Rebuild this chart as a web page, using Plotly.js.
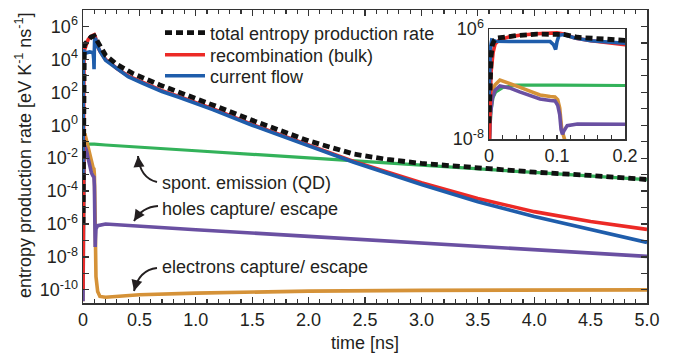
<!DOCTYPE html>
<html>
<head>
<meta charset="utf-8">
<script src="https://cdn.plot.ly/plotly-3.0.1.min.js"></script>
<style>html,body{margin:0;padding:0;background:#fff;}#chart{width:673px;height:358px;}</style>
</head>
<body>
<div id="chart"></div>
<script>
// time values [ns] and log10 of the entropy production rate [eV K^-1 ns^-1]
var tTotal = [0, 0.001, 0.002, 0.003, 0.005, 0.008, 0.012, 0.02, 0.04, 0.07, 0.1, 0.11, 0.13, 0.16, 0.2, 0.3, 0.44, 0.68, 1.0, 1.2, 1.5, 2.0, 2.4, 2.7, 3.0, 3.5, 4.0, 4.5, 5.0];
var logTotal = [-6, -1.5, 0.5, 2.5, 4.0, 4.6, 4.85, 4.95, 5.15, 5.35, 5.42, 5.3, 4.95, 4.6, 4.25, 3.7, 3.15, 2.45, 1.65, 1.1, 0.3, -0.95, -1.75, -2.08, -2.32, -2.6, -2.85, -3.05, -3.3];

var tRecomb = [0, 0.001, 0.003, 0.006, 0.009, 0.015, 0.03, 0.045, 0.07, 0.1, 0.11, 0.126, 0.15, 0.2, 0.24, 0.3, 0.4, 0.53, 0.7, 0.85, 1.0, 1.15, 1.5, 2.0, 2.4, 3.0, 3.5, 4.0, 4.5, 5.0];
var logRecomb = [-10, -6, 0.5, 3.0, 4.1, 4.6, 5.0, 5.2, 5.4, 5.5, 5.35, 4.85, 4.5, 4.0, 3.8, 3.45, 3.0, 2.6, 2.1, 1.75, 1.4, 1.0, 0.05, -1.2, -2.2, -3.5, -4.45, -5.25, -5.85, -6.33];

var tCurrent = [0, 0.001, 0.002, 0.004, 0.01, 0.03, 0.06, 0.09, 0.095, 0.098, 0.1, 0.103, 0.11, 0.126, 0.15, 0.2, 0.24, 0.3, 0.4, 0.53, 0.7, 0.85, 1.0, 1.15, 1.5, 2.0, 2.4, 3.0, 3.5, 4.0, 4.5, 5.0];
var logCurrent = [-3, 1.5, 3.5, 4.6, 4.45, 4.4, 4.45, 4.4, 4.0, 3.4, 4.4, 5.2, 5.3, 4.85, 4.5, 3.95, 3.75, 3.4, 2.95, 2.55, 2.05, 1.7, 1.35, 0.95, 0.0, -1.25, -2.25, -3.6, -4.65, -5.55, -6.35, -7.12];

var tSpont = [0, 0.003, 0.006, 0.01, 0.02, 0.04, 0.1, 0.2, 1, 2, 3, 4, 5];
var logSpont = [-9, -4.3, -2.7, -2.0, -1.45, -1.15, -1.15, -1.2, -1.55, -1.97, -2.43, -2.87, -3.3];

var tElec = [0, 0.002, 0.005, 0.009, 0.016, 0.03, 0.045, 0.06, 0.075, 0.09, 0.097, 0.101, 0.104, 0.107, 0.11, 0.115, 0.13, 0.15, 0.2, 0.3, 0.5, 1, 1.5, 2, 3, 4, 5];
var logElec = [-10.7, -4, -1.8, -1.1, -0.5, -0.9, -1.4, -1.9, -2.4, -2.6, -2.65, -3.0, -4.05, -6.8, -8, -9.2, -10.1, -10.4, -10.45, -10.4, -10.3, -10.2, -10.12, -10.08, -10.03, -10.0, -10.0];

var tHoles = [0, 0.002, 0.005, 0.009, 0.016, 0.03, 0.045, 0.06, 0.075, 0.09, 0.097, 0.101, 0.104, 0.106, 0.108, 0.11, 0.115, 0.13, 0.2, 0.5, 1, 2, 3, 4, 5];
var logHoles = [-10.7, -5, -2.8, -1.8, -1.25, -1.5, -2.0, -2.45, -2.9, -3.1, -3.15, -3.7, -4.9, -6.8, -7.4, -7.0, -6.3, -6.1, -6.0, -6.15, -6.35, -6.75, -7.15, -7.55, -7.97];

var xTickVals = [0, 0.5, 1, 1.5, 2, 2.5, 3, 3.5, 4, 4.5, 5];
var xTickText = ["0", "0.5", "1.0", "1.5", "2.0", "2.5", "3.0", "3.5", "4.0", "4.5", "5.0"];
var yLabelDecades = [-10, -8, -6, -4, -2, 0, 2, 4, 6];
var yMinorDecades = [-9, -7, -5, -3, -1, 1, 3, 5, 7];
var insetXTickVals = [0, 0.1, 0.2];
var insetXTickText = ["0", "0.1", "0.2"];
var insetXMinor = [0.02, 0.04, 0.06, 0.08, 0.12, 0.14, 0.16, 0.18];
var insetYDecades = [-8, 6];

var legendNames = ["total entropy production rate", "recombination (bulk)", "current flow"];

function pow10(arr) { return arr.map(function (v) { return Math.pow(10, v); }); }
function supLabel(d) { return "10<sup>" + d + "</sup>"; }

var C = {
  total: "#111111", red: "#ec2a26", blue: "#1f5dab", green: "#33b25a",
  purple: "#6a50a2", orange: "#d59238"
};

var series = [
  {t: tSpont, y: logSpont, color: C.green, w: 3.2},
  {t: tElec, y: logElec, color: C.orange, w: 3.6},
  {t: tHoles, y: logHoles, color: C.purple, w: 3.6},
  {t: tRecomb, y: logRecomb, color: C.red, w: 3.6, name: legendNames[1], legend: "legend2"},
  {t: tCurrent, y: logCurrent, color: C.blue, w: 3.6, name: legendNames[2], legend: "legend3"},
  {t: tTotal, y: logTotal, color: C.total, w: 4.8, dash: "7px,4px", name: legendNames[0], legend: "legend"}
];

var data = [];
series.forEach(function (s) {
  data.push({
    x: s.t, y: pow10(s.y), type: "scatter", mode: "lines",
    line: {color: s.color, width: s.w, dash: s.dash || "solid"},
    name: s.name || "", showlegend: !!s.name, legend: s.legend || "legend",
    xaxis: "x", yaxis: "y", hoverinfo: "skip"
  });
});
series.forEach(function (s) {
  data.push({
    x: s.t, y: pow10(s.y), type: "scatter", mode: "lines",
    line: {color: s.color, width: s.w, dash: s.dash || "solid"},
    showlegend: false, xaxis: "x2", yaxis: "y2", hoverinfo: "skip"
  });
});

var ink = "#231f20";
var fontFam = "Liberation Sans, Arial, Helvetica, sans-serif";

function fx(px) { return (px - 83) / 564; }
function fy(py) { return (303 - py) / 293; }

var arrows = [
  {tail: [157, 182], ctrl: [140, 178], tip: [138, 156], ax: 1, ay: 11},
  {tail: [158, 206], ctrl: [142, 207], tip: [134, 221], ax: 6, ay: -9},
  {tail: [157, 268], ctrl: [139, 270], tip: [134, 291], ax: 3, ay: -11}
];

var shapes = arrows.map(function (a) {
  return {
    type: "path", xref: "paper", yref: "paper",
    path: "M" + fx(a.tail[0]) + "," + fy(a.tail[1]) + " Q" + fx(a.ctrl[0]) + "," + fy(a.ctrl[1]) + " " + fx(a.tip[0]) + "," + fy(a.tip[1]),
    line: {color: ink, width: 2}
  };
});

var annotations = arrows.map(function (a) {
  return {
    xref: "paper", yref: "paper", x: fx(a.tip[0]), y: fy(a.tip[1]),
    ax: a.ax, ay: a.ay, text: "", showarrow: true, arrowhead: 2,
    arrowsize: 1.1, arrowwidth: 2, arrowcolor: ink, standoff: 0
  };
});

var labelFont = {family: fontFam, size: 18, color: ink};
annotations.push(
  {xref: "paper", yref: "paper", x: fx(160), y: fy(183), xanchor: "left", yanchor: "middle", text: "spont. emission (QD)", showarrow: false, font: labelFont},
  {xref: "paper", yref: "paper", x: fx(160), y: fy(209), xanchor: "left", yanchor: "middle", text: "holes capture/ escape", showarrow: false, font: labelFont},
  {xref: "paper", yref: "paper", x: fx(160), y: fy(267), xanchor: "left", yanchor: "middle", text: "electrons capture/ escape", showarrow: false, font: labelFont},
  {xref: "paper", yref: "paper", x: fx(23), y: fy(155), xanchor: "center", yanchor: "middle", textangle: -90,
   text: "entropy production rate [eV K<sup>-1</sup> ns<sup>-1</sup>]", showarrow: false, font: labelFont},
  {xref: "paper", yref: "paper", x: fx(365), y: fy(343), xanchor: "center", yanchor: "middle",
   text: "time [ns]", showarrow: false, font: labelFont}
);

var axisCommon = {
  showline: true, linecolor: "#333", linewidth: 1.5, showgrid: false, zeroline: false,
  ticks: "inside", tickcolor: "#333", tickwidth: 1.2, tickfont: labelFont
};

function legendAt(py) {
  return {x: fx(160), y: fy(py), xanchor: "left", yanchor: "middle", bgcolor: "rgba(0,0,0,0)",
          font: {family: fontFam, size: 18, color: ink}, itemwidth: 40, tracegroupgap: 0};
}

var layout = {
  width: 673, height: 358,
  margin: {l: 83, r: 26, t: 10, b: 55, pad: 0},
  paper_bgcolor: "#fff", plot_bgcolor: "rgba(0,0,0,0)",
  font: {family: fontFam, size: 18, color: ink},
  showlegend: true,
  legend: legendAt(33),
  legend2: legendAt(55),
  legend3: legendAt(76),
  xaxis: Object.assign({}, axisCommon, {
    domain: [0, 1], range: [0, 5], tickvals: xTickVals, ticktext: xTickText, ticklen: 6,
    mirror: "ticks", anchor: "y",
    minor: {dtick: 0.1, ticks: "inside", ticklen: 4, tickcolor: "#333", tickwidth: 1.2}
  }),
  yaxis: Object.assign({}, axisCommon, {
    domain: [0, 1], type: "log", range: [-10.8, 7], anchor: "x",
    tickvals: yLabelDecades.map(function (d) { return Math.pow(10, d); }),
    ticktext: yLabelDecades.map(supLabel),
    ticklen: 6, mirror: "ticks",
    minor: {tickvals: yMinorDecades.map(function (d) { return Math.pow(10, d); }), ticks: "inside", ticklen: 6, tickcolor: "#333", tickwidth: 1.2}
  }),
  xaxis2: Object.assign({}, axisCommon, {
    domain: [fx(489), fx(625)], range: [0, 0.2], anchor: "y2",
    tickvals: insetXTickVals, ticktext: insetXTickText, ticklen: 4, mirror: true,
    minor: {tickvals: insetXMinor, ticks: "inside", ticklen: 4, tickcolor: "#333", tickwidth: 1.2}
  }),
  yaxis2: Object.assign({}, axisCommon, {
    domain: [fy(139), fy(29)], type: "log", range: [-8, 6], anchor: "x2",
    tickvals: insetYDecades.map(function (d) { return Math.pow(10, d); }),
    ticktext: insetYDecades.map(supLabel), ticks: "", mirror: true
  }),
  shapes: shapes,
  annotations: annotations
};

Plotly.newPlot("chart", data, layout, {staticPlot: true, displayModeBar: false});
</script>
</body>
</html>
